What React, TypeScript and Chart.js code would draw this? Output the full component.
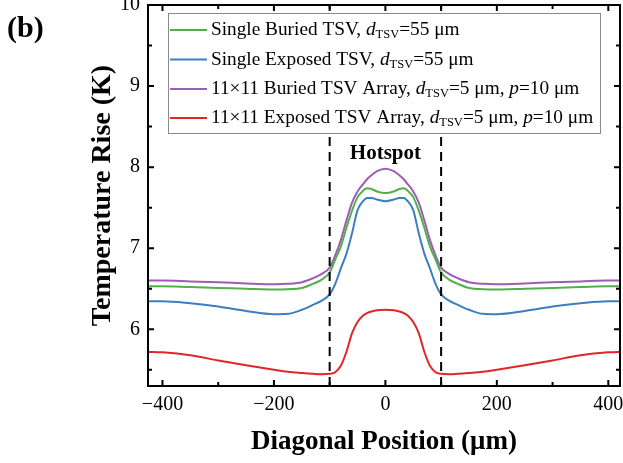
import React, { useEffect, useRef } from "react";
import { Chart, registerables } from "chart.js";
Chart.register(...registerables);

const SERIF = "'Liberation Serif', 'Times New Roman', serif";

const X_POS = [-425, -400, -350, -300, -250, -200, -175, -150, -130, -115, -100, -90, -80, -70, -60, -50, -40, -33, -25, -15, 0,
  15, 25, 33, 40, 50, 60, 70, 80, 90, 100, 115, 130, 150, 175, 200, 250, 300, 350, 400, 425];

const SINGLE_BURIED = [6.53, 6.53, 6.52, 6.51, 6.50, 6.49, 6.495, 6.51, 6.56, 6.61, 6.70, 6.86, 7.02, 7.25, 7.46, 7.63, 7.71, 7.74, 7.73, 7.70, 7.68,
  7.70, 7.73, 7.74, 7.71, 7.63, 7.46, 7.25, 7.02, 6.86, 6.70, 6.61, 6.56, 6.51, 6.495, 6.49, 6.50, 6.51, 6.52, 6.53, 6.53];

const SINGLE_EXPOSED = [6.345, 6.345, 6.32, 6.28, 6.225, 6.185, 6.19, 6.24, 6.30, 6.35, 6.43, 6.56, 6.75, 6.93, 7.18, 7.47, 7.58, 7.62, 7.62, 7.60, 7.58,
  7.60, 7.62, 7.62, 7.58, 7.47, 7.18, 6.93, 6.75, 6.56, 6.43, 6.35, 6.30, 6.24, 6.19, 6.185, 6.225, 6.28, 6.32, 6.345, 6.345];

const ARRAY_BURIED = [6.60, 6.60, 6.59, 6.58, 6.565, 6.555, 6.56, 6.58, 6.63, 6.68, 6.76, 6.91, 7.10, 7.34, 7.56, 7.70, 7.79, 7.85, 7.90, 7.95, 7.98,
  7.95, 7.90, 7.85, 7.79, 7.70, 7.56, 7.34, 7.10, 6.91, 6.76, 6.68, 6.63, 6.58, 6.56, 6.555, 6.565, 6.58, 6.59, 6.60, 6.60];

const ARRAY_EXPOSED = [5.72, 5.715, 5.68, 5.615, 5.555, 5.50, 5.475, 5.46, 5.45, 5.445, 5.45, 5.47, 5.55, 5.72, 5.95, 6.09, 6.17, 6.20, 6.22, 6.235, 6.24,
  6.235, 6.22, 6.20, 6.17, 6.09, 5.95, 5.72, 5.55, 5.47, 5.45, 5.445, 5.45, 5.46, 5.475, 5.50, 5.555, 5.615, 5.68, 5.715, 5.72];

const HOTSPOT_BOUNDS = [-100, 100];

const X_TICKS = [-400, -200, 0, 200, 400];
const X_MINOR = [-300, -100, 100, 300];
const Y_TICKS = [6, 7, 8, 9, 10];
const Y_MINOR = [5.5, 6.5, 7.5, 8.5, 9.5];

const COLORS = ["#52b04a", "#3b7fc0", "#9d5cb5", "#e0262a"];

type Seg = { t: string; s: "n" | "i" | "sub" };
const LEGEND: Seg[][] = [
  [{ t: "Single Buried TSV, ", s: "n" }, { t: "d", s: "i" }, { t: "TSV", s: "sub" }, { t: "=55 μm", s: "n" }],
  [{ t: "Single Exposed TSV, ", s: "n" }, { t: "d", s: "i" }, { t: "TSV", s: "sub" }, { t: "=55 μm", s: "n" }],
  [{ t: "11×11 Buried TSV Array, ", s: "n" }, { t: "d", s: "i" }, { t: "TSV", s: "sub" }, { t: "=5 μm, ", s: "n" }, { t: "p", s: "i" }, { t: "=10 μm", s: "n" }],
  [{ t: "11×11 Exposed TSV Array, ", s: "n" }, { t: "d", s: "i" }, { t: "TSV", s: "sub" }, { t: "=5 μm, ", s: "n" }, { t: "p", s: "i" }, { t: "=10 μm", s: "n" }],
];

const segFont = (s: string) =>
  s === "i" ? `italic 19.3px ${SERIF}` : s === "sub" ? `12.5px ${SERIF}` : `19.3px ${SERIF}`;

const decorPlugin = {
  id: "decor",
  afterDatasetsDraw(chart: any) {
    const ctx = chart.ctx as CanvasRenderingContext2D;
    const { left, right, top, bottom } = chart.chartArea;
    const xs = chart.scales.x;
    const ys = chart.scales.y;
    ctx.save();
    // Hotspot label
    ctx.fillStyle = "#000";
    ctx.font = `bold 21px ${SERIF}`;
    ctx.textAlign = "center";
    ctx.textBaseline = "middle";
    ctx.fillText("Hotspot", xs.getPixelForValue(0), ys.getPixelForValue(8.17));

    // Legend box
    const bx = 168, by = 13, bw = 432, bh = 120;
    ctx.fillStyle = "#fff";
    ctx.fillRect(bx, by, bw, bh);
    ctx.strokeStyle = "#8a8a8a";
    ctx.lineWidth = 1;
    ctx.strokeRect(bx + 0.5, by + 0.5, bw, bh);
    const rows = [30, 59.5, 89, 118];
    ctx.textAlign = "left";
    ctx.textBaseline = "middle";
    LEGEND.forEach((segs, i) => {
      const y = rows[i];
      ctx.strokeStyle = COLORS[i];
      ctx.lineWidth = 2;
      ctx.beginPath();
      ctx.moveTo(170, y);
      ctx.lineTo(207, y);
      ctx.stroke();
      let x = 211;
      ctx.fillStyle = "#000";
      segs.forEach((sg) => {
        ctx.font = segFont(sg.s);
        ctx.fillText(sg.t, x, sg.s === "sub" ? y + 5 : y);
        x += ctx.measureText(sg.t).width;
      });
    });

    // Frame
    ctx.strokeStyle = "#000";
    ctx.lineWidth = 2;
    ctx.strokeRect(left, top, right - left, bottom - top);
    // Inward ticks on all four sides
    const tick = (vals: number[], len: number) => {
      vals.forEach((v) => {
        const px = xs.getPixelForValue(v);
        ctx.beginPath();
        ctx.moveTo(px, bottom);
        ctx.lineTo(px, bottom - len);
        ctx.moveTo(px, top);
        ctx.lineTo(px, top + len);
        ctx.stroke();
      });
    };
    const ytick = (vals: number[], len: number) => {
      vals.forEach((v) => {
        const py = ys.getPixelForValue(v);
        ctx.beginPath();
        ctx.moveTo(left, py);
        ctx.lineTo(left + len, py);
        ctx.moveTo(right, py);
        ctx.lineTo(right - len, py);
        ctx.stroke();
      });
    };
    tick(X_TICKS, 6);
    tick(X_MINOR, 4);
    ytick(Y_TICKS, 6);
    ytick(Y_MINOR, 4);

    // Panel label
    ctx.font = `bold 30px ${SERIF}`;
    ctx.textAlign = "left";
    ctx.textBaseline = "alphabetic";
    ctx.fillStyle = "#000";
    ctx.fillText("(b)", 7, 37);
    ctx.restore();
  },
};

export default function App() {
  const ref = useRef<HTMLCanvasElement>(null);
  useEffect(() => {
    const mk = (ys: number[]) => X_POS.map((x, i) => ({ x, y: ys[i] }));
    const line = (label: string, data: number[], color: string) => ({
      label,
      data: mk(data),
      borderColor: color,
      backgroundColor: color,
      borderWidth: 2,
      pointRadius: 0,
      cubicInterpolationMode: "monotone" as const,
      fill: false,
    });
    const dashed = (xv: number) => ({
      label: "hotspot edge",
      data: [{ x: xv, y: 5.3 }, { x: xv, y: 10 }],
      borderColor: "#000",
      borderWidth: 2,
      borderDash: [9, 6],
      pointRadius: 0,
      fill: false,
    });
    const chart = new Chart(ref.current as HTMLCanvasElement, {
      type: "line",
      data: {
        datasets: [
          dashed(HOTSPOT_BOUNDS[0]),
          dashed(HOTSPOT_BOUNDS[1]),
          line("Single Buried TSV", SINGLE_BURIED, COLORS[0]),
          line("Single Exposed TSV", SINGLE_EXPOSED, COLORS[1]),
          line("11×11 Buried TSV Array", ARRAY_BURIED, COLORS[2]),
          line("11×11 Exposed TSV Array", ARRAY_EXPOSED, COLORS[3]),
        ] as any,
      },
      options: {
        animation: false,
        responsive: false,
        devicePixelRatio: 1,
        layout: { padding: { top: 5, right: 3, left: 0, bottom: 0 } },
        plugins: { legend: { display: false }, tooltip: { enabled: false } },
        scales: {
          x: {
            type: "linear",
            min: -426,
            max: 421,
            afterBuildTicks: (s: any) => { s.ticks = X_TICKS.map((v) => ({ value: v })); },
            afterFit: (s: any) => { s.height = 77; s.paddingLeft = 0; s.paddingRight = 0; },
            grid: { display: false, drawTicks: false },
            border: { display: false },
            ticks: {
              padding: 7,
              color: "#000",
              font: { family: SERIF, size: 20 },
              maxRotation: 0,
              autoSkip: false,
              callback: (v: any) => (v < 0 ? "−" + Math.abs(v) : String(v)),
            },
            title: {
              display: true,
              text: "Diagonal Position (μm)",
              color: "#000",
              font: { family: SERIF, size: 27, weight: "bold" },
              padding: { top: 0, bottom: 5 },
            },
          },
          y: {
            type: "linear",
            min: 5.3,
            max: 10,
            afterBuildTicks: (s: any) => { s.ticks = Y_TICKS.map((v) => ({ value: v })); },
            afterFit: (s: any) => { s.width = 148; s.paddingTop = 0; s.paddingBottom = 0; },
            grid: { display: false, drawTicks: false },
            border: { display: false },
            ticks: {
              padding: 8,
              color: "#000",
              font: { family: SERIF, size: 20 },
              autoSkip: false,
            },
            title: {
              display: true,
              text: "Temperature Rise (K)",
              color: "#000",
              font: { family: SERIF, size: 28, weight: "bold" },
              padding: { top: 86, bottom: 0 },
            },
          },
        },
      },
      plugins: [decorPlugin],
    });
    return () => chart.destroy();
  }, []);
  return (
    <div style={{ position: "fixed", left: 0, top: 0, width: 623, height: 463, background: "#fff" }}>
      <canvas ref={ref} width={623} height={463} style={{ width: 623, height: 463, display: "block" }} />
    </div>
  );
}
